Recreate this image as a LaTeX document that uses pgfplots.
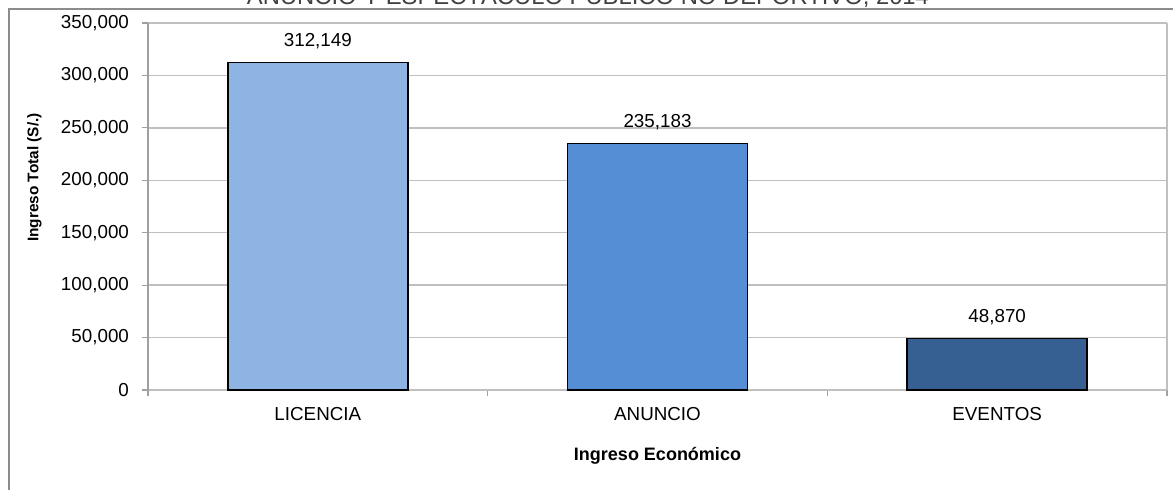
\documentclass[border=0pt]{standalone}
\usepackage{pgfplots}
\pgfplotsset{compat=1.18}
\usepackage{fontspec}
\setmainfont{Liberation Sans}
\definecolor{barA}{HTML}{8EB4E3}
\definecolor{barB}{HTML}{558ED5}
\definecolor{barC}{HTML}{376092}
\definecolor{gridc}{HTML}{C0C0C0}
\definecolor{axisc}{HTML}{A0A0A0}
\definecolor{framec}{HTML}{8C8C8C}
\begin{document}
\begin{tikzpicture}
\fill[white] (0,0) rectangle (586.5pt,244.5pt);
\begin{axis}[
  scale only axis,
  width=509.5pt, height=183.5pt,
  at={(74pt,49.5pt)}, anchor=south west,
  xmin=-0.5, xmax=2.5,
  ymin=0, ymax=350000,
  xtick={0,1,2},
  xticklabels={LICENCIA,ANUNCIO,EVENTOS},
  minor xtick={-0.5,0.5,1.5,2.5},
  ytick={0,50000,100000,150000,200000,250000,300000,350000},
  tick align=outside,
  major tick length=3pt,
  minor tick length=3pt,
  xtick style={draw=none},
  minor x tick style={draw=axisc, line width=0.6pt},
  ytick style={draw=axisc, line width=0.6pt},
  xtick pos=bottom, ytick pos=left,
  ymajorgrids,
  major grid style={draw=gridc, line width=0.7pt},
  axis line style={draw=gridc, line width=0.7pt},
  axis x line*=bottom,
  axis y line*=left,
  scaled y ticks=false,
  /pgf/number format/.cd, fixed, 1000 sep={,}, assume math mode=true,
  /pgfplots/.cd,
  ticklabel style={font=\fontsize{9.4}{11}\selectfont},
  yticklabel style={anchor=east, xshift=-3pt},
  xticklabel style={anchor=base, yshift=-12pt},
  xlabel={Ingreso Económico},
  xlabel style={at={(axis description cs:0.5,-0.1926)}, anchor=base, font=\fontsize{9}{11}\selectfont\bfseries},
  ylabel={Ingreso Total (S/.)},
  ylabel style={at={(axis description cs:-0.10765,0.579)}, anchor=base, rotate=0, font=\fontsize{7.7}{9}\selectfont\bfseries},
  ybar, bar width=90pt,
  nodes near coords,
  nodes near coords style={anchor=base, yshift=8pt, font=\fontsize{9.4}{11}\selectfont, /pgf/number format/.cd, fixed, 1000 sep={,}, assume math mode=true},
  clip=false,
]
\addplot[bar shift=0pt, fill=barA, draw=black, line width=0.7pt] coordinates {(0,312149)};
\addplot[bar shift=0pt, fill=barB, draw=black, line width=0.7pt] coordinates {(1,235183)};
\addplot[bar shift=0pt, fill=barC, draw=black, line width=0.7pt] coordinates {(2,48870)};
\draw[draw=gridc, line width=0.7pt] (rel axis cs:1,0) -- (rel axis cs:1,1);
\draw[draw=axisc, line width=0.7pt] ([yshift=-1.5pt]rel axis cs:0,0) -- (rel axis cs:0,1);
\end{axis}
\draw[framec, line width=0.9pt] (4.5pt,-5pt) -- (4.5pt,240pt) -- (600pt,240pt);
\node[anchor=base, text=black!75, font=\fontsize{11.9}{14}\selectfont, inner sep=0pt] at (294pt,242.5pt) {ANUNCIO Y ESPECTÁCULO PÚBLICO NO DEPORTIVO, 2014};
\pgfresetboundingbox
\path[use as bounding box] (0,0) rectangle (586.5pt,244.5pt);
\end{tikzpicture}
\end{document}
